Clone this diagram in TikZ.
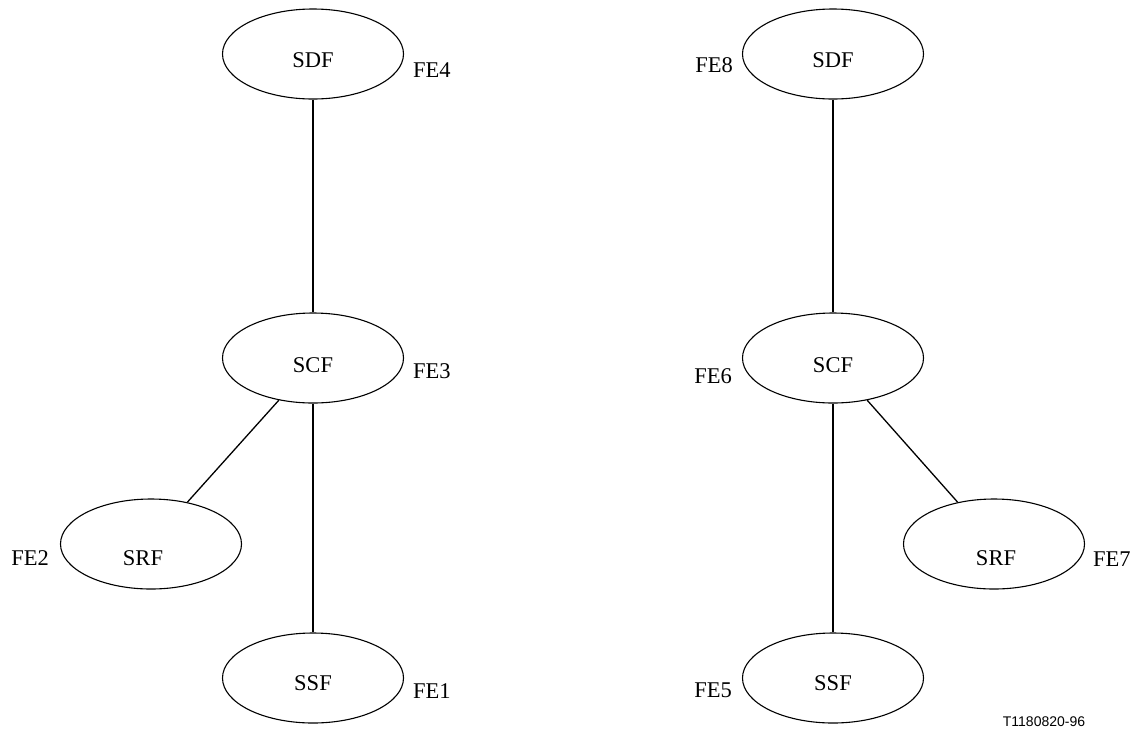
\documentclass[tikz,border=0pt]{standalone}
\usepackage{fontspec}
\setmainfont{Liberation Serif}
\newfontfamily\arialfont{Liberation Sans}
\usetikzlibrary{shapes.geometric}
\begin{document}
\begin{tikzpicture}[x=1pt,y=-1pt,
  fe/.style={draw, line width=1.1pt, ellipse, minimum width=181pt, minimum height=90pt, inner sep=0pt},
  lbl/.style={font=\fontsize{22.5}{25}\selectfont, inner sep=0pt},
  conn/.style={line width=1.3pt}]
\useasboundingbox (0,0) rectangle (1138,729);
% left
\node[fe, label={[lbl,yshift=-6pt]center:SDF}] (sdf1) at (313,54) {};
\node[fe, label={[lbl,yshift=-7pt]center:SCF}] (scf1) at (313,358) {};
\node[fe, label={[lbl,yshift=-14pt,xshift=-8pt]center:SRF}] (srf1) at (151,544) {};
\node[fe, label={[lbl,yshift=-5pt]center:SSF}] (ssf1) at (313,678) {};
\node[lbl, anchor=west] (fe4) at (413,70) {FE4};
\node[lbl, anchor=west] (fe3) at (413,371) {FE3};
\node[lbl, anchor=east] (fe2) at (49,558) {FE2};
\node[lbl, anchor=west] (fe1) at (413,691) {FE1};
\draw[conn] (sdf1.south) -- (scf1.north);
\draw[conn] (scf1.south) -- (ssf1.north);
\draw[conn] (scf1.231) -- (srf1.49);
% right
\node[fe, label={[lbl,yshift=-6pt]center:SDF}] (sdf2) at (833,54) {};
\node[fe, label={[lbl,yshift=-7pt]center:SCF}] (scf2) at (833,358) {};
\node[fe, label={[lbl,yshift=-14pt,xshift=2pt]center:SRF}] (srf2) at (994,544) {};
\node[fe, label={[lbl,yshift=-5pt]center:SSF}] (ssf2) at (833,678) {};
\node[lbl, anchor=east] (fe8) at (733,65) {FE8};
\node[lbl, anchor=east] (fe6) at (732,376) {FE6};
\node[lbl, anchor=west] (fe7) at (1093,559) {FE7};
\node[lbl, anchor=east] (fe5) at (732,690) {FE5};
\draw[conn] (sdf2.south) -- (scf2.north);
\draw[conn] (scf2.south) -- (ssf2.north);
\draw[conn] (scf2.309) -- (srf2.131);
\node[font=\arialfont\fontsize{14}{16}\selectfont, inner sep=0pt] (tag) at (1044,722) {T1180820-96};
\end{tikzpicture}
\end{document}
